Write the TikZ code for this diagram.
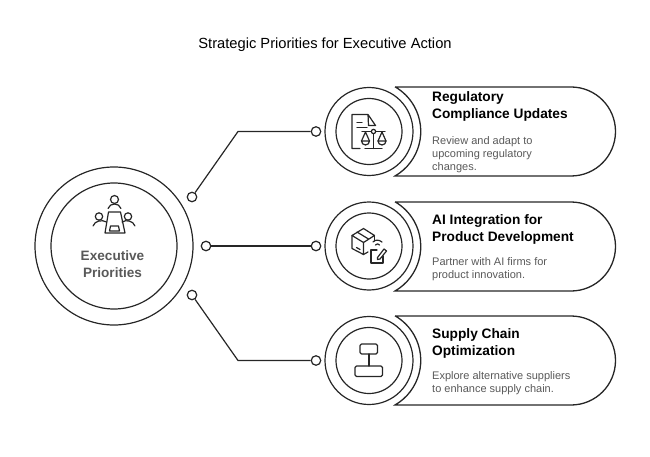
\documentclass[tikz,border=0pt]{standalone}
\usepackage{fontspec}
\setmainfont{Liberation Sans}
\definecolor{inkline}{HTML}{262626}
\definecolor{greytext}{HTML}{595959}
\tikzset{
  ring/.style={circle,draw=inkline,line width=1.2pt,inner sep=0pt},
  dot/.style={circle,draw=inkline,line width=1.2pt,fill=white,inner sep=0pt,minimum size=9.5pt},
  link/.style={draw=inkline,line width=1.2pt},
  pill/.style={draw=inkline,line width=1.3pt},
  icon/.style={draw=inkline,line width=1.2pt,line join=round,line cap=round},
  headtext/.style={anchor=west,align=left,font=\fontsize{13.7}{17.5}\selectfont\bfseries,text=black,inner sep=0pt},
  bodytext/.style={anchor=west,align=left,font=\fontsize{11}{13}\selectfont,text=greytext,inner sep=0pt},
}
\begin{document}
\begin{tikzpicture}[x=1pt,y=-1pt]
  \useasboundingbox (0,0) rectangle (650,457);
  \node (title) at (325,45) {\fontsize{14.7}{17}\selectfont Strategic Priorities for Executive Action};
  % left hub
  \node[ring,minimum size=158pt] (hubouter) at (114,246) {};
  \node[ring,minimum size=126pt] (hubinner) at (114,246) {};
  \node[align=center,inner sep=0pt,text=greytext,
        font=\fontsize{13.6}{17.5}\selectfont\bfseries] (hubtext) at (112.5,264)
    {Executive\\Priorities};
  % pills
  \draw[pill] (395,87) -- (571,87) arc[start angle=-90,end angle=90,radius=44.5]
    -- (395,176) arc[start angle=60,end angle=-60,radius=51.5];
  \draw[pill] (395,202) -- (571,202) arc[start angle=-90,end angle=90,radius=44.5]
    -- (395,291) arc[start angle=60,end angle=-60,radius=51.5];
  \draw[pill] (395,316) -- (571,316) arc[start angle=-90,end angle=90,radius=44.5]
    -- (395,405) arc[start angle=60,end angle=-60,radius=51.5];
  % right rings
  \node[ring,minimum size=88pt] (regouter) at (369,131.5) {};
  \node[ring,minimum size=66pt] (reginner) at (369,131.5) {};
  \node[ring,minimum size=88pt] (aiouter) at (369,246) {};
  \node[ring,minimum size=66pt] (aiinner) at (369,246) {};
  \node[ring,minimum size=88pt] (supouter) at (369,360.5) {};
  \node[ring,minimum size=66pt] (supinner) at (369,360.5) {};
  % connectors
  \node[dot] (hubdota) at (192,197) {};
  \node[dot] (hubdotb) at (206,246) {};
  \node[dot] (hubdotc) at (192,295) {};
  \node[dot] (regdot) at (316,131.5) {};
  \node[dot] (aidot) at (316,246) {};
  \node[dot] (supdot) at (316,360.5) {};
  \coordinate (bendreg) at (238,131.5);
  \coordinate (bendsup) at (238,360.5);
  \draw[link] (hubdota) -- (bendreg) -- (regdot);
  \draw[link] (hubdotb) -- (aidot);
  \draw[link] (hubdotc) -- (bendsup) -- (supdot);
  % texts
  \node[headtext] (reghead) at (432,106.5) {Regulatory\\Compliance Updates};
  \node[bodytext] (regbody) at (432,155) {Review and adapt to\\upcoming regulatory\\changes.};
  \node[headtext] (aihead) at (432,229.5) {AI Integration for\\Product Development};
  \node[bodytext] (aibody) at (432,269) {Partner with AI firms for\\product innovation.};
  \node[headtext] (suphead) at (432,343.5) {Supply Chain\\Optimization};
  \node[bodytext] (supbody) at (432,383) {Explore alternative suppliers\\to enhance supply chain.};
  % meeting icon
  \draw[icon] (108.5,212) -- (120.5,212) -- (125,233) -- (105,233) -- cycle;
  \draw[icon] (110.5,226) -- (118.5,226) -- (119.5,231) -- (109.5,231) -- cycle;
  \draw[icon] (114.5,199.5) circle[radius=4];
  \draw[icon] (108,208.5) .. controls (110,202.5) and (119,202.5) .. (121,208.5);
  \draw[icon] (99,216.5) circle[radius=3.7];
  \draw[icon] (93,226) .. controls (95,220.5) and (102,219.5) .. (106.5,222);
  \draw[icon] (128,216.5) circle[radius=3.7];
  \draw[icon] (135,226) .. controls (133,220.5) and (126,219.5) .. (122,222);
  % document and scales icon
  \draw[icon] (360,148.5) -- (352,148.5) -- (352,114.5) -- (368,114.5) -- (375.5,125.5) -- (368.5,125.5) -- (368,114.5);
  \draw[icon] (357,122.5) -- (362,122.5) (357,127.5) -- (367,127.5);
  \draw[icon] (373.5,134) -- (373.5,148.5) (365,148.5) -- (382,148.5);
  \draw[icon] (373.5,131.5) circle[radius=2.2];
  \draw[icon] (362,131.5) -- (371.3,131.5) (375.7,131.5) -- (385,131.5);
  \draw[icon] (365.5,132) -- (361.5,141) (365.5,132) -- (369.5,141);
  \draw[icon] (361.5,141) arc[start angle=180,end angle=0,radius=4] -- cycle;
  \draw[icon] (382,132) -- (378,141) (382,132) -- (386,141);
  \draw[icon] (378,141) arc[start angle=180,end angle=0,radius=4] -- cycle;
  % box and note icon
  \draw[icon] (363.5,228.5) -- (374.5,235.5) -- (363.5,242.5) -- (352,235.5) -- cycle;
  \draw[icon] (352,235.5) -- (352,248.5) -- (363.5,254.5) -- (363.5,242.5);
  \draw[icon] (374.5,235.5) -- (374.5,241);
  \draw[icon] (363.5,254.5) -- (368,252);
  \draw[icon] (357,232) -- (368.5,239);
  \draw[icon] (356.5,247.5) -- (360,249.5);
  \draw[icon] (373,242) .. controls (375,239.5) and (379,239.5) .. (382,242);
  \draw[icon] (375.5,245) .. controls (376.5,243.5) and (378.5,243.5) .. (379.5,245);
  \draw[icon] (377,250) -- (371,250) -- (371,263) -- (383,263) -- (383,256);
  \draw[icon] (377.5,257.5) -- (384,249) -- (386.5,251) -- (380,259) -- (377.5,259.5) -- cycle;
  % supply chain icon
  \draw[icon,rounded corners=1.5pt] (360,344) rectangle (377.5,354);
  \draw[icon] (369,354) -- (369,366);
  \draw[icon,rounded corners=1.5pt] (355,366) rectangle (382.5,376.5);
\end{tikzpicture}
\end{document}
